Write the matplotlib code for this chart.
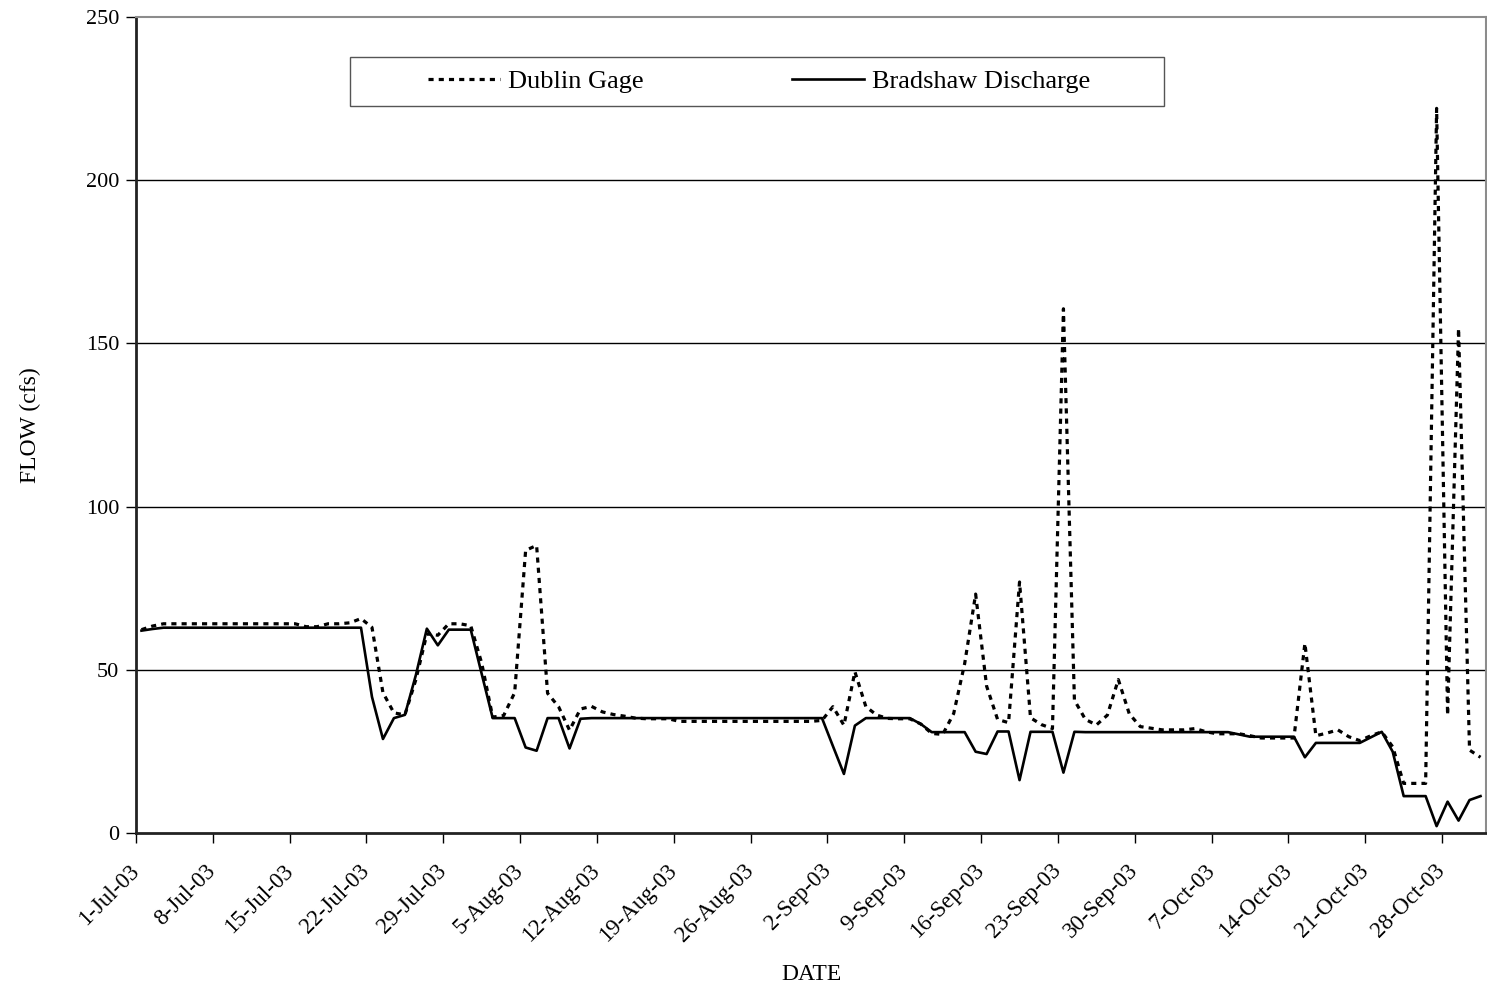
import matplotlib
matplotlib.use("Agg")
import matplotlib.pyplot as plt
import matplotlib.transforms as mtransforms
from matplotlib.patches import Rectangle
import numpy as np

plt.rcParams["font.family"] = ["Liberation Serif", "DejaVu Serif"]

# Daily flows, 1-Jul-03 through 31-Oct-03 (cfs)
dublin_gage = [
    62.3, 63.4, 64.1, 64.1, 64.1, 64.1, 64.1, 64.1, 64.1, 64.1,
    64.1, 64.1, 64.1, 64.1, 64.1, 63.2, 63.2, 64.1, 64.1, 64.4,
    65.7, 63.0, 43.0, 36.8, 36.2, 47.0, 61.0, 60.6, 64.1, 64.1,
    63.5, 52.0, 35.5, 36.0, 43.0, 86.6, 88.1, 42.8, 38.7, 31.5,
    38.0, 38.8, 37.1, 36.3, 35.8, 35.2, 35.0, 35.0, 35.0, 34.2,
    34.2, 34.2, 34.2, 34.2, 34.2, 34.2, 34.2, 34.2, 34.2, 34.2,
    34.2, 34.2, 34.5, 38.7, 33.0, 49.4, 38.7, 36.1, 35.1, 35.0,
    35.0, 33.4, 30.5, 30.2, 36.6, 51.9, 73.2, 45.0, 34.8, 33.8,
    76.9, 35.3, 33.2, 32.0, 160.6, 40.7, 34.8, 33.1, 36.1, 47.0,
    36.5, 32.6, 32.1, 31.6, 31.6, 31.6, 32.0, 31.0, 30.4, 30.4,
    30.4, 29.8, 29.1, 29.1, 29.1, 29.1, 58.1, 29.8, 30.6, 31.6,
    29.5, 28.3, 29.8, 31.0, 26.4, 15.2, 15.2, 15.2, 222.0, 36.1,
    154.6, 25.4, 23.2,
]

bradshaw_discharge = [
    62.0, 62.5, 62.9, 62.9, 62.9, 62.9, 62.9, 62.9, 62.9, 62.9,
    62.9, 62.9, 62.9, 62.9, 62.9, 62.9, 62.9, 62.9, 62.9, 62.9,
    62.9, 41.7, 28.8, 35.2, 36.2, 48.4, 62.6, 57.5, 62.3, 62.3,
    62.3, 48.7, 35.2, 35.2, 35.2, 26.2, 25.2, 35.2, 35.2, 25.9,
    35.0, 35.2, 35.2, 35.2, 35.2, 35.2, 35.2, 35.2, 35.2, 35.2,
    35.2, 35.2, 35.2, 35.2, 35.2, 35.2, 35.2, 35.2, 35.2, 35.2,
    35.2, 35.2, 35.2, 26.6, 18.1, 32.9, 35.2, 35.2, 35.2, 35.2,
    35.2, 33.4, 30.9, 30.9, 30.9, 30.9, 24.9, 24.2, 31.1, 31.1,
    16.2, 31.0, 31.0, 31.0, 18.5, 31.0, 30.9, 30.9, 30.9, 30.9,
    30.9, 30.9, 30.9, 30.9, 30.9, 30.9, 30.9, 30.9, 30.9, 30.9,
    30.2, 29.5, 29.5, 29.5, 29.5, 29.5, 23.2, 27.6, 27.6, 27.6,
    27.6, 27.6, 29.3, 31.0, 24.9, 11.3, 11.3, 11.3, 2.1, 9.6,
    3.8, 10.1, 11.3,
]

date_labels = [
    "1-Jul-03", "8-Jul-03", "15-Jul-03", "22-Jul-03", "29-Jul-03",
    "5-Aug-03", "12-Aug-03", "19-Aug-03", "26-Aug-03", "2-Sep-03",
    "9-Sep-03", "16-Sep-03", "23-Sep-03", "30-Sep-03", "7-Oct-03",
    "14-Oct-03", "21-Oct-03", "28-Oct-03",
]
label_step_days = 7

y_ticks = [0, 50, 100, 150, 200, 250]

days = np.arange(len(dublin_gage))

W, H = 1487, 990
fig = plt.figure(figsize=(W / 100, H / 100), dpi=100)
ax = fig.add_axes([136 / W, 1 - 833 / H, 1 - 136 / W - 1 / W, (833 - 17) / H])

ax.plot(days, dublin_gage, color="black", lw=2.3, linestyle=(0, (1.6, 1.6)),
        label="Dublin Gage", zorder=3)
ax.plot(days, bradshaw_discharge, color="black", lw=1.9, label="Bradshaw Discharge",
        zorder=4)

ax.set_xlim(-0.5, len(days) - 0.5)
ax.set_ylim(0, 250)

tick_pos = np.arange(len(date_labels)) * label_step_days - 0.5
ax.set_xticks(tick_pos)
ax.set_xticklabels(date_labels, rotation=45, ha="right", va="center",
                   rotation_mode="anchor", fontsize=16.5)
shift = mtransforms.ScaledTranslation(-4 / 100, 0, fig.dpi_scale_trans)
for lbl in ax.get_xticklabels():
    lbl.set_transform(lbl.get_transform() + shift)
ax.set_yticks(y_ticks)
ax.set_yticklabels([str(v) for v in y_ticks], fontsize=16)
ax.tick_params(axis="x", direction="out", length=7, width=1, pad=18)
ax.tick_params(axis="y", direction="out", length=7, width=1, pad=5)

for v in y_ticks[1:-1]:
    ax.axhline(v, color="black", lw=1.0, zorder=1)

for side in ("top", "right"):
    ax.spines[side].set_color("#8c8c8c")
    ax.spines[side].set_linewidth(1.5)
ax.spines["left"].set_color("#222222")
ax.spines["left"].set_linewidth(2)
ax.spines["bottom"].set_color("#222222")
ax.spines["bottom"].set_linewidth(2)

ax.set_xlabel("DATE", fontsize=17, va="center")
ax.xaxis.set_label_coords((812 - 136) / 1351, (833 - 975) / 816)
ax.set_ylabel("FLOW (cfs)", fontsize=17, va="center")
ax.yaxis.set_label_coords((30 - 136) / 1351, (833 - 425) / 816)

# Legend box and entries
box_x0 = (350 - 136) / 1351
box_x1 = (1165 - 136) / 1351
box_y1 = (833 - 57) / 816
box_y0 = (833 - 106) / 816
ax.add_patch(Rectangle((box_x0, box_y0), box_x1 - box_x0, box_y1 - box_y0,
                       transform=ax.transAxes, facecolor="white",
                       edgecolor="#555555", lw=1, zorder=5))
leg = ax.legend(loc="center left",
                bbox_to_anchor=((428 - 136) / 1351, (box_y0 + box_y1) / 2),
                ncol=2, fontsize=19, frameon=False, handlelength=2.75,
                handletextpad=0.3, columnspacing=5.6, borderaxespad=0,
                borderpad=0)
leg.set_zorder(6)

fig.savefig("out.png", dpi=100, facecolor="white")
